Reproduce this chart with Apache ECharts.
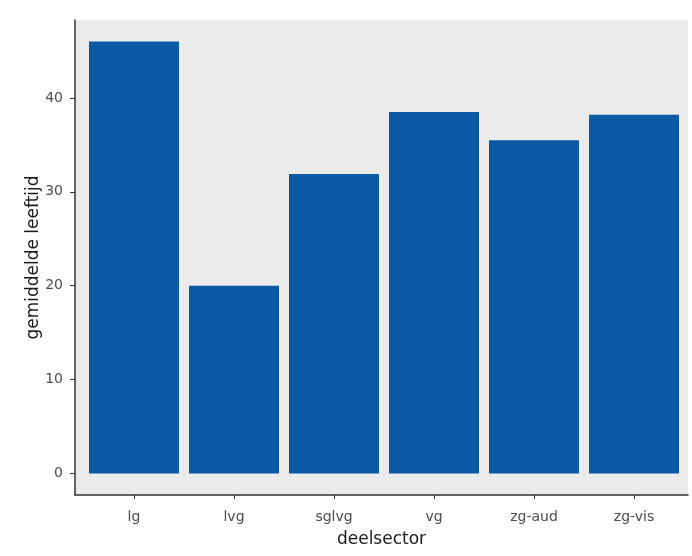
<!DOCTYPE html>
<html>
<head>
<meta charset="utf-8">
<script src="https://cdn.jsdelivr.net/npm/echarts@6/dist/echarts.min.js"></script>
<style>html,body{margin:0;padding:0;background:#fff;}#c{width:692px;height:556px;}</style>
</head>
<body>
<div id="c"></div>
<script>
const categories = ['lg', 'lvg', 'sglvg', 'vg', 'zg-aud', 'zg-vis'];
const values = [46.0, 20.0, 31.9, 38.5, 35.5, 38.2];
const yTicks = [0, 10, 20, 30, 40];
const catIndex = categories.map((c, i) => i);

const chart = echarts.init(document.getElementById('c'), null, {renderer: 'canvas'});
const font = 'DejaVu Sans, Verdana, sans-serif';
chart.setOption({
  animation: false,
  backgroundColor: '#ffffff',
  grid: {left: 75, right: 4, top: 20, bottom: 61, show: true, backgroundColor: '#EBEBEB', borderWidth: 0},
  xAxis: {
    type: 'value', min: -0.59, max: 5.54,
    axisLine: {show: true, onZero: false, lineStyle: {color: '#333333', width: 1.5}},
    axisTick: {show: true, customValues: catIndex, length: 4, lineStyle: {color: '#333333'}},
    axisLabel: {customValues: catIndex, formatter: v => categories[Math.round(v)], color: '#4D4D4D', fontSize: 14, fontFamily: font, margin: 15},
    splitLine: {show: false},
    name: 'deelsector', nameLocation: 'middle', nameGap: 36, nameMoveOverlap: false,
    nameTextStyle: {color: '#1a1a1a', fontSize: 17, fontFamily: font}
  },
  yAxis: {
    type: 'value', min: -2.3, max: 48.3,
    axisLine: {show: true, onZero: false, lineStyle: {color: '#333333', width: 1.5}},
    axisTick: {show: true, customValues: yTicks, length: 5, lineStyle: {color: '#333333'}},
    axisLabel: {customValues: yTicks, color: '#4D4D4D', fontSize: 14, fontFamily: font, margin: 12},
    splitLine: {show: false},
    name: 'gemiddelde leeftijd', nameLocation: 'middle', nameGap: 33, nameRotate: 90, nameMoveOverlap: false,
    nameTextStyle: {color: '#1a1a1a', fontSize: 17, fontFamily: font}
  },
  series: [{
    type: 'bar',
    data: values.map((v, i) => [catIndex[i], v]),
    barWidth: 90,
    itemStyle: {color: '#0B5AA5'}
  }]
});
</script>
</body>
</html>
